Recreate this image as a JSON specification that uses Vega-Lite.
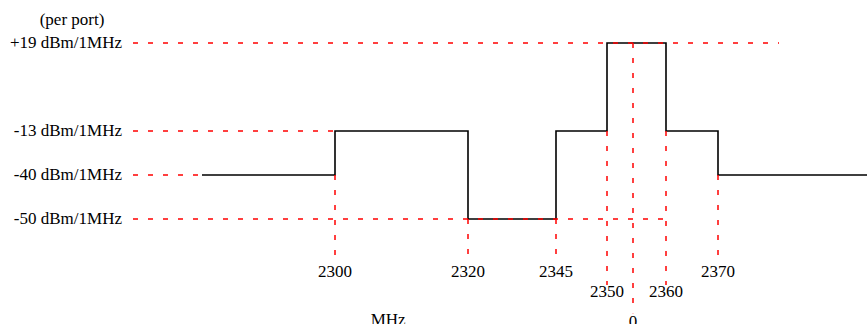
{
  "$schema": "https://vega.github.io/schema/vega-lite/v6.json",
  "width": 867,
  "height": 324,
  "padding": 0,
  "autosize": {"type": "none"},
  "background": "white",
  "config": {
    "view": {"stroke": null},
    "text": {"font": "Liberation Serif", "fontSize": 17, "color": "black", "baseline": "middle"}
  },
  "datasets": {
    "step": [
      {"f": 2280, "p": -40},
      {"f": 2300, "p": -13},
      {"f": 2320, "p": -50},
      {"f": 2345, "p": -13},
      {"f": 2350, "p": 19},
      {"f": 2360, "p": -13},
      {"f": 2370, "p": -40},
      {"f": 2400, "p": -40}
    ],
    "levels": [
      {"p": 19, "label": "+19 dBm/1MHz", "f": 2260, "f2": 2385},
      {"p": -13, "label": "-13 dBm/1MHz", "f": 2260, "f2": 2300},
      {"p": -40, "label": "-40 dBm/1MHz", "f": 2260, "f2": 2280},
      {"p": -50, "label": "-50 dBm/1MHz", "f": 2260, "f2": 2360}
    ],
    "marks": [
      {"f": 2300, "label": "2300", "p": -40, "tier": 1},
      {"f": 2320, "label": "2320", "p": -50, "tier": 1},
      {"f": 2345, "label": "2345", "p": -50, "tier": 1},
      {"f": 2350, "label": "2350", "p": -13, "tier": 2},
      {"f": 2355, "label": "0", "p": 19, "tier": 3},
      {"f": 2360, "label": "2360", "p": -13, "tier": 2},
      {"f": 2370, "label": "2370", "p": -40, "tier": 1}
    ]
  },
  "layer": [
    {
      "data": {"name": "step"},
      "mark": {"type": "line", "interpolate": "step-after", "color": "black", "strokeWidth": 1.6},
      "encoding": {
        "x": {"field": "f", "type": "quantitative", "axis": null,
          "scale": {"type": "linear", "domain": [2260, 2280, 2300, 2320, 2345, 2350, 2355, 2360, 2370, 2385, 2400], "range": [133, 202, 335, 468, 556, 607, 633, 666, 718, 779, 867], "nice": false, "zero": false}},
        "y": {"field": "p", "type": "quantitative", "axis": null,
          "scale": {"type": "linear", "domain": [30, 19, -13, -40, -50, -80], "range": [12.75, 43, 131, 175, 219, 351], "nice": false, "zero": false}}
      }
    },
    {
      "data": {"name": "levels"},
      "mark": {"type": "rule", "color": "#ff0000", "strokeWidth": 1.5, "strokeDash": [5, 10]},
      "encoding": {
        "x": {"field": "f", "type": "quantitative", "axis": null},
        "x2": {"field": "f2"},
        "y": {"field": "p", "type": "quantitative", "axis": null}
      }
    },
    {
      "data": {"name": "marks"},
      "transform": [{"filter": "datum.tier == 1"}],
      "mark": {"type": "rule", "color": "#ff0000", "strokeWidth": 1.5, "strokeDash": [5, 10]},
      "encoding": {
        "x": {"field": "f", "type": "quantitative", "axis": null},
        "y": {"field": "p", "type": "quantitative", "axis": null},
        "y2": {"datum": -59.8}
      }
    },
    {
      "data": {"name": "marks"},
      "transform": [{"filter": "datum.tier == 2"}],
      "mark": {"type": "rule", "color": "#ff0000", "strokeWidth": 1.5, "strokeDash": [5, 10]},
      "encoding": {
        "x": {"field": "f", "type": "quantitative", "axis": null},
        "y": {"field": "p", "type": "quantitative", "axis": null},
        "y2": {"datum": -65}
      }
    },
    {
      "data": {"name": "marks"},
      "transform": [{"filter": "datum.tier == 3"}],
      "mark": {"type": "rule", "color": "#ff0000", "strokeWidth": 1.5, "strokeDash": [5, 10]},
      "encoding": {
        "x": {"field": "f", "type": "quantitative", "axis": null},
        "y": {"field": "p", "type": "quantitative", "axis": null},
        "y2": {"datum": -71.4}
      }
    },
    {
      "data": {"name": "levels"},
      "mark": {"type": "text", "align": "right", "dx": -11},
      "encoding": {
        "x": {"field": "f", "type": "quantitative", "axis": null},
        "y": {"field": "p", "type": "quantitative", "axis": null},
        "text": {"field": "label"}
      }
    },
    {
      "data": {"name": "marks"},
      "transform": [{"filter": "datum.tier == 1"}],
      "mark": {"type": "text", "align": "center"},
      "encoding": {
        "x": {"field": "f", "type": "quantitative", "axis": null},
        "y": {"datum": -62, "type": "quantitative", "axis": null},
        "text": {"field": "label"}
      }
    },
    {
      "data": {"name": "marks"},
      "transform": [{"filter": "datum.tier == 2"}],
      "mark": {"type": "text", "align": "center"},
      "encoding": {
        "x": {"field": "f", "type": "quantitative", "axis": null},
        "y": {"datum": -66.6, "type": "quantitative", "axis": null},
        "text": {"field": "label"}
      }
    },
    {
      "data": {"name": "marks"},
      "transform": [{"filter": "datum.tier == 3"}],
      "mark": {"type": "text", "align": "center"},
      "encoding": {
        "x": {"field": "f", "type": "quantitative", "axis": null},
        "y": {"datum": -73.4, "type": "quantitative", "axis": null},
        "text": {"field": "label"}
      }
    },
    {
      "data": {"values": [{"label": "(per port)"}, {"label": "MHz"}]},
      "transform": [{"filter": "datum.label == '(per port)'"}],
      "mark": {"type": "text", "align": "center", "dx": -61},
      "encoding": {
        "x": {"datum": 2260, "type": "quantitative", "axis": null},
        "y": {"datum": 27.4, "type": "quantitative", "axis": null},
        "text": {"field": "label"}
      }
    },
    {
      "data": {"values": [{"label": "MHz"}]},
      "mark": {"type": "text", "align": "center"},
      "encoding": {
        "x": {"datum": 2308, "type": "quantitative", "axis": null},
        "y": {"datum": -72.9, "type": "quantitative", "axis": null},
        "text": {"field": "label"}
      }
    }
  ]
}
